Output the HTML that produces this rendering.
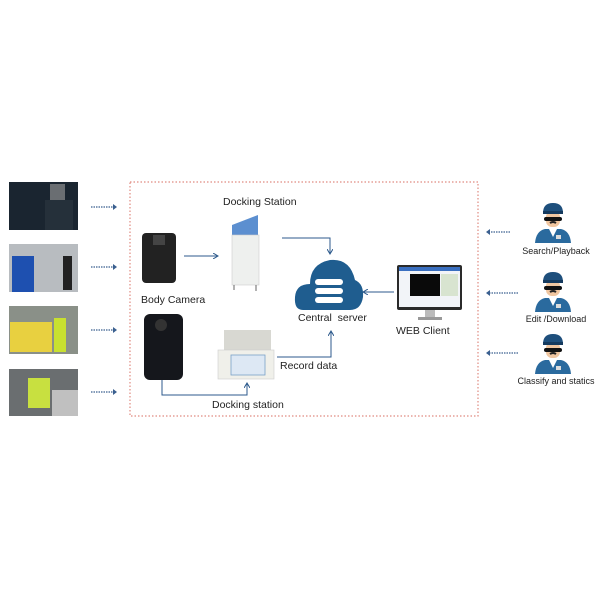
<!DOCTYPE html>
<html><head><meta charset="utf-8"><style>
body{margin:0;background:#fff;width:600px;height:600px;overflow:hidden}
svg{display:block}
text{font-family:"Liberation Sans",sans-serif;fill:#222}
</style></head><body>
<svg width="600" height="600" viewBox="0 0 600 600">
<defs>
<marker id="a" markerWidth="6" markerHeight="6" refX="5" refY="3" orient="auto" markerUnits="userSpaceOnUse"><path d="M0,0 L5,3 L0,6" fill="none" stroke="#2d5a8c" stroke-width="1"/></marker>
<g id="cop">
 <path d="M-18,38 Q-17,26 -8,24 L8,24 Q17,26 18,38 Z" fill="#2a6a9e"/>
 <path d="M-4,24 L0,32 L4,24 Z" fill="#fff"/>
 <rect x="-7" y="6" width="14" height="16" rx="6" fill="#f0c6a0"/>
 <rect x="-9" y="12" width="18" height="4" rx="2" fill="#111"/>
 <path d="M-3,18 Q0,16 3,18" stroke="#222" stroke-width="2" fill="none"/>
 <path d="M-10,8 Q-10,-2 0,-2 Q10,-2 10,8 Z" fill="#1e4f7c"/>
 <rect x="-10" y="6" width="20" height="3" fill="#153a5e"/>
 <rect x="3" y="30" width="5" height="4" fill="#ddd"/>
</g>
</defs>
<!-- dotted box -->
<rect x="130" y="182" width="348" height="234" fill="none" stroke="#e08a80" stroke-width="1.2" stroke-dasharray="1.5,2"/>
<!-- photos -->
<rect x="9" y="182" width="69" height="48" fill="#1a2530"/><rect x="50" y="184" width="15" height="20" fill="#6a6e72"/><rect x="45" y="200" width="28" height="30" fill="#25303a"/>
<rect x="9" y="244" width="69" height="48" fill="#b8bcc0"/><rect x="12" y="256" width="22" height="36" fill="#1e50b0"/><rect x="63" y="256" width="9" height="34" fill="#222"/>
<rect x="9" y="306" width="69" height="48" fill="#8a9088"/><rect x="10" y="322" width="42" height="30" fill="#e8d040"/><rect x="54" y="318" width="12" height="34" fill="#c8e030"/>
<rect x="9" y="369" width="69" height="47" fill="#6a6e70"/><rect x="28" y="378" width="22" height="30" fill="#c8e040"/><rect x="52" y="390" width="26" height="26" fill="#c0c0c0"/>
<!-- left dotted arrows -->
<g stroke="#3a5f8f" stroke-width="1.2" stroke-dasharray="1.5,1" fill="none">
<line x1="91" y1="207" x2="113" y2="207"/><line x1="91" y1="267" x2="113" y2="267"/><line x1="91" y1="330" x2="113" y2="330"/><line x1="91" y1="392" x2="113" y2="392"/>
<line x1="510" y1="232" x2="490" y2="232"/><line x1="518" y1="293" x2="490" y2="293"/><line x1="518" y1="353" x2="490" y2="353"/>
</g>
<g fill="#3a5f8f"><path d="M113,204 L117,207 L113,210Z"/><path d="M113,264 L117,267 L113,270Z"/><path d="M113,327 L117,330 L113,333Z"/><path d="M113,389 L117,392 L113,395Z"/>
<path d="M490,229 L486,232 L490,235Z"/><path d="M490,290 L486,293 L490,296Z"/><path d="M490,350 L486,353 L490,356Z"/></g>
<!-- body cameras -->
<rect x="142" y="233" width="34" height="50" rx="4" fill="#222"/><rect x="153" y="235" width="12" height="10" fill="#444"/>
<rect x="144" y="314" width="39" height="66" rx="6" fill="#15171c"/><circle cx="161" cy="325" r="6" fill="#333"/>
<!-- kiosk -->
<path d="M232,225 L258,215 L258,235 L232,240Z" fill="#5c8fd0"/>
<rect x="232" y="235" width="27" height="50" fill="#eef0ee" stroke="#ccc" stroke-width="0.6"/>
<line x1="234" y1="285" x2="234" y2="290" stroke="#666"/><line x1="256" y1="285" x2="256" y2="291" stroke="#666"/>
<!-- docking station -->
<rect x="224" y="330" width="47" height="22" fill="#d8d8d2"/>
<rect x="218" y="350" width="56" height="29" fill="#f0f0ea" stroke="#ccc" stroke-width="0.6"/>
<rect x="231" y="355" width="34" height="20" fill="#dde8f4" stroke="#7aa0c8" stroke-width="0.8"/>
<!-- cloud -->
<path d="M303,310 Q294,310 295,297 Q296,284 310,284 Q310,264 330,260 Q350,258 355,280 Q364,284 363,297 Q361,310 350,310 Z" fill="#1f5d8f"/>
<g fill="#fff"><rect x="315" y="279" width="28" height="6" rx="3"/><rect x="315" y="288" width="28" height="6" rx="3"/><rect x="315" y="297" width="28" height="6" rx="3"/></g>
<!-- monitor -->
<rect x="397" y="265" width="65" height="45" rx="2" fill="#2a2a2a"/>
<rect x="399" y="267" width="61" height="40" fill="#f2f4f8"/>
<rect x="399" y="267" width="61" height="4" fill="#3a6fc0"/>
<rect x="410" y="274" width="30" height="22" fill="#0a0a0a"/>
<rect x="441" y="274" width="17" height="22" fill="#d8e4d0"/>
<rect x="425" y="310" width="10" height="7" fill="#bbb"/><rect x="418" y="317" width="24" height="3" fill="#999"/>
<!-- police -->
<use href="#cop" x="553" y="205"/><use href="#cop" x="553" y="274"/><use href="#cop" x="553" y="336"/>
<!-- connectors -->
<g stroke="#2d5a8c" stroke-width="1" fill="none">
<line x1="184" y1="256" x2="218" y2="256" marker-end="url(#a)"/>
<polyline points="282,238 330,238 330,254" marker-end="url(#a)"/>
<polyline points="277,357 331,357 331,331" marker-end="url(#a)"/>
<line x1="394" y1="292" x2="363" y2="292" marker-end="url(#a)"/>
<polyline points="162,380 162,395 247,395 247,383" marker-end="url(#a)"/>
</g>
<!-- labels -->
<g font-size="10.5">
<text x="223" y="205">Docking Station</text>
<text x="141" y="303">Body Camera</text>
<text x="298" y="321">Central&#160;&#160;server</text>
<text x="396" y="334">WEB Client</text>
<text x="280" y="369">Record data</text>
<text x="212" y="408">Docking station</text>
</g>
<g font-size="9" text-anchor="middle" fill="#333">
<text x="556" y="254">Search/Playback</text>
<text x="556" y="322">Edit /Download</text>
<text x="556" y="384">Classify and statics</text>
</g>
</svg>
</body></html>
